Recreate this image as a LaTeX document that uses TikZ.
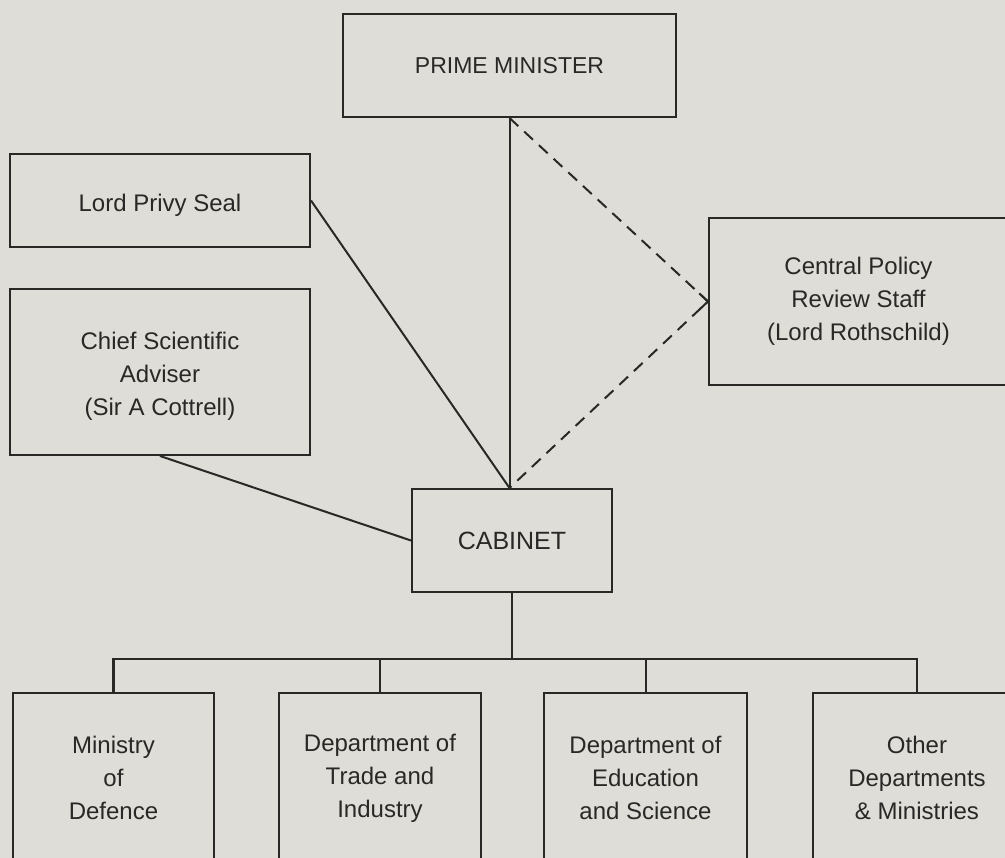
\documentclass[tikz,border=0pt]{standalone}
\usepackage{fontspec}
\setmainfont{Liberation Sans}
\usetikzlibrary{calc}
\definecolor{paper}{RGB}{223,221,215}
\definecolor{ink}{RGB}{40,40,38}
\tikzset{
  txt/.style={text=ink, inner sep=0pt, align=center, font=\fontsize{24}{33}\selectfont},
  box/.style={draw=ink, line width=2pt, txt},
  link/.style={draw=ink, line width=2pt},
  dlink/.style={draw=ink, line width=2pt, dash pattern=on 12pt off 8pt},
}
\begin{document}
\begin{tikzpicture}[x=1pt,y=-1pt]
\useasboundingbox (0,0) rectangle (1005,858);
\fill[paper] (0,0) rectangle (1005,858);
\begin{scope}
\clip (0,0) rectangle (1005,858);
% nodes
\node[box, minimum width=333pt, minimum height=103pt, font=\fontsize{23}{33}\selectfont] (pm) at (509.5,65.5) {PRIME MINISTER};
\node[box, minimum width=300pt, minimum height=93pt,
  label={[txt, yshift=-5pt]center:Lord Privy Seal}] (lps) at (160,200.5) {};
\node[box, minimum width=300pt, minimum height=166pt,
  label={[txt, yshift=-4pt]center:{Chief Scientific\\Adviser\\(Sir A Cottrell)}}] (csa) at (160,372) {};
\node[box, minimum width=299pt, minimum height=167pt] (cprs) at (858.5,301.5) {Central Policy\\Review Staff\\(Lord Rothschild)};
\node[box, minimum width=200pt, minimum height=103pt, font=\fontsize{25}{33}\selectfont] (cab) at (512,540.5) {CABINET};
\node[box, minimum width=201pt, minimum height=170pt] (d1) at (113.5,778) {Ministry\\of\\Defence};
\node[box, minimum width=202pt, minimum height=170pt] (d2) at (380,778) {Department of\\Trade and\\Industry};
\node[box, minimum width=203pt, minimum height=170pt] (d3) at (645.5,778) {Department of\\Education\\and Science};
\node[box, minimum width=208pt, minimum height=170pt] (d4) at (917,778) {Other\\Departments\\\& Ministries};
% connectors to cabinet
\coordinate (cabtop) at (pm.south |- cab.north);
\draw[link] (pm.south) -- (cabtop);
\draw[link] (lps.east) -- (cabtop);
\draw[link] (csa.south) -- (cab.west);
\draw[dlink] (pm.south) -- (cprs.west) -- (cabtop);
% chevron at the dashed corner
\draw[link, line join=miter] ($(cprs.west)!12pt!(pm.south)$) -- (cprs.west) -- ($(cprs.west)!12pt!(cabtop)$);
% tree to departments
\coordinate (bus) at (0,659);
\draw[link] (cab.south) -- (cab.south |- bus);
\draw[link, line width=2.4pt] (d1.north) -- (d1.north |- bus) -- (d4.north |- bus) -- (d4.north);
\draw[link] (d2.north |- bus) -- (d2.north);
\draw[link] (d3.north |- bus) -- (d3.north);
\end{scope}
\end{tikzpicture}
\end{document}
